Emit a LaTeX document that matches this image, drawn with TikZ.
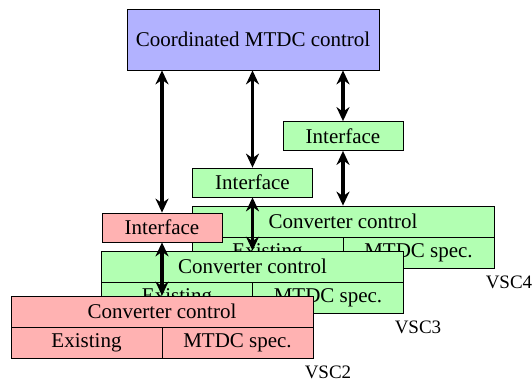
\documentclass[tikz,border=0pt]{standalone}
\usepackage{fontspec}
\setmainfont{Liberation Serif}
\usetikzlibrary{arrows.meta}

\begin{document}
\begin{tikzpicture}[x=0.5pt, y=-0.5pt,
    font=\fontsize{10.5}{12}\selectfont,
    top/.style={draw, fill=blue!30, minimum width=126pt, minimum height=30.5pt, inner sep=0pt},
    iface/.style={draw, minimum width=60pt, minimum height=14.5pt, inner sep=0pt},
    ctrl/.style={draw, minimum width=151pt, minimum height=15.5pt, inner sep=0pt},
    half/.style={draw, minimum width=75.5pt, minimum height=15.5pt, inner sep=0pt},
    link/.style={{Stealth[length=7pt,width=6.5pt]}-{Stealth[length=7pt,width=6.5pt]}, line width=1.7pt},
    vsc/.style={font=\fontsize{9.5}{11}\selectfont}]
    \useasboundingbox (0,0) rectangle (532,380);
    % coordinated control on top
    \node[top] (coord) at (253,39.5) {Coordinated MTDC control};
    % VSC4 (back)
    \node[ctrl, fill=green!30] (cc4) at (343,221.5) {Converter control};
    \node[half, fill=green!30] (ex4) at (267.5,252.5) {Existing};
    \node[half, fill=green!30] (sp4) at (418.5,252.5) {MTDC spec.};
    \node[vsc] (lab4) at (509,282) {VSC4};
    \node[iface, fill=green!30] (if4) at (343,136) {Interface};
    % VSC3
    \node[ctrl, fill=green!30] (cc3) at (252.5,266.5) {Converter control};
    \node[half, fill=green!30] (ex3) at (177,297.5) {Existing};
    \node[half, fill=green!30] (sp3) at (328,297.5) {MTDC spec.};
    \node[vsc] (lab3) at (418,327) {VSC3};
    \node[iface, fill=green!30] (if3) at (252.5,182.5) {Interface};
    % VSC2 (front)
    \node[iface, fill=red!30] (if2) at (162,227.5) {Interface};
    \draw[link] (if3.south) -- (cc3.north -| if3.south);
    \node[ctrl, fill=red!30] (cc2) at (162,311.5) {Converter control};
    \node[half, fill=red!30] (ex2) at (86.5,342.5) {Existing};
    \node[half, fill=red!30] (sp2) at (237.5,342.5) {MTDC spec.};
    \node[vsc] (lab2) at (328,372) {VSC2};
    % links
    \draw[link] (coord.south -| if2.north) -- (if2.north);
    \draw[link] (coord.south -| if3.north) -- (if3.north);
    \draw[link] (coord.south -| if4.north) -- (if4.north);
    \draw[link] (if4.south) -- (cc4.north -| if4.south);
    \draw[link] (if2.south) -- (cc2.north -| if2.south);
\end{tikzpicture}
\end{document}
